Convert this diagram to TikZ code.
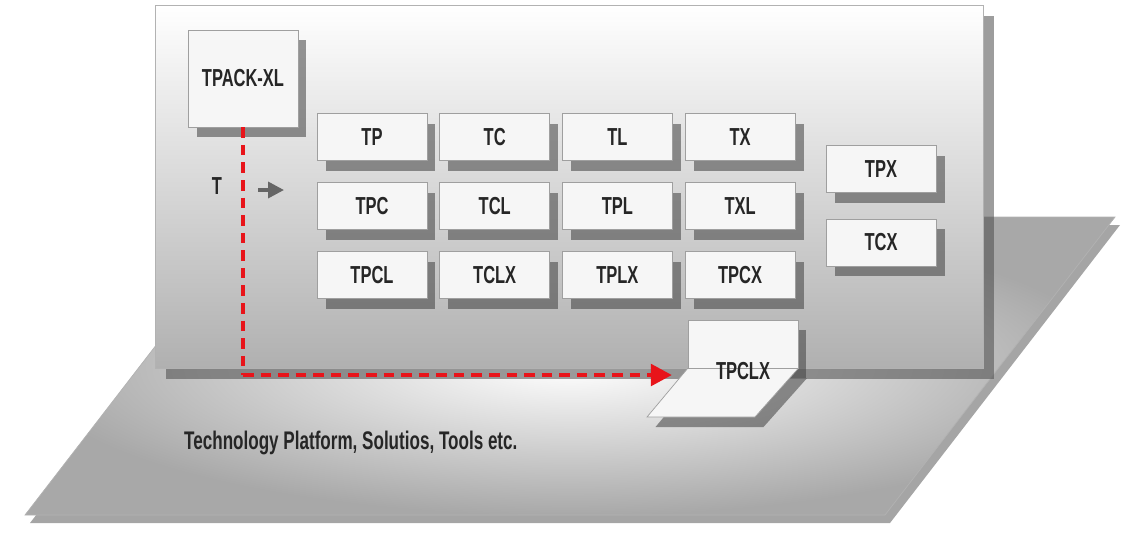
\documentclass[tikz,border=0pt]{standalone}
\usepackage{fontspec}
\newfontfamily\narrowfont[FakeStretch=0.67]{Liberation Sans Bold}
\usetikzlibrary{arrows.meta,shadows,calc,positioning}
\definecolor{flowred}{RGB}{232,20,26}
\tikzset{
  softshadow/.style={drop shadow={shadow xshift=0.17cm, shadow yshift=-0.2cm, fill=black!75, opacity=0.55}},
  tbox/.style={draw=gray!75, fill=gray!7, minimum width=2.2cm, minimum height=0.94cm,
    inner sep=0pt, font=\narrowfont\fontsize{14}{16}\selectfont, text=black!85, softshadow},
  flow/.style={flowred, line width=1.8pt, dash pattern=on 6pt off 4pt},
}
\begin{document}
\begin{tikzpicture}[x=0.02cm,y=-0.02cm]
\useasboundingbox (0,0) rectangle (1125,532);
% floor plane
\path[draw=gray!60, inner color=white, outer color=gray!68,
  drop shadow={shadow xshift=0.1cm, shadow yshift=-0.16cm, fill=black!70, opacity=0.5}]
  (25,515) -- (255,217) -- (1115,217) -- (885,515) -- cycle;
% back panel
\path[draw=gray!60, top color=white, bottom color=gray!62,
  drop shadow={shadow xshift=0.22cm, shadow yshift=-0.22cm, fill=black!70, opacity=0.55}]
  (155,5) rectangle (983,368);
% boxes
\node[tbox, minimum height=1.94cm] (tpackxl) at (243,78.5) {TPACK-XL};
\foreach \name [count=\i] in {TP,TC,TL,TX}
  \node[tbox] (r1c\i) at ({372+122.7*(\i-1)},137) {\name};
\foreach \name [count=\i] in {TPC,TCL,TPL,TXL}
  \node[tbox] (r2c\i) at ({372+122.7*(\i-1)},206) {\name};
\foreach \name [count=\i] in {TPCL,TCLX,TPLX,TPCX}
  \node[tbox] (r3c\i) at ({372+122.7*(\i-1)},275) {\name};
\node[tbox] (tpx) at (881,169) {TPX};
\node[tbox] (tcx) at (881,242.5) {TCX};
% folded box
\node[tbox, minimum height=0.96cm] (tpclx) at (743,344) {};
\path[draw=gray!75, fill=gray!7, softshadow]
  (tpclx.south west) -- (tpclx.south east) -- (755,417) -- (647,417) -- cycle;
\draw[gray!75] (tpclx.south west) -- (tpclx.south east);
\node[font=\narrowfont\fontsize{14}{16}\selectfont, text=black!85] (tpclxlabel) at (743,371) {TPCLX};
% flow
\coordinate (bend) at (243,375);
\coordinate (floorhit) at (672,375);
\draw[flow] (tpackxl.south) -- (bend);
\draw[flow, line width=2.8pt, -{Triangle[length=12pt,width=12pt]}] (bend) -- (floorhit);
% T label
\node[font=\narrowfont\fontsize{14}{16}\selectfont, text=black!85] (tlabel) at (217,186) {T};
\coordinate (tarrow) at (284,190);
\draw[gray!80!black, line width=2pt, -{Triangle[length=9pt,width=9pt]}] (258,190) -- (tarrow);
% floor text
\node[anchor=west, font=\narrowfont\fontsize{14.5}{17}\selectfont, text=black!85] (floortext) at (178,443)
  {Technology Platform, Solutios, Tools etc.};
\end{tikzpicture}
\end{document}
